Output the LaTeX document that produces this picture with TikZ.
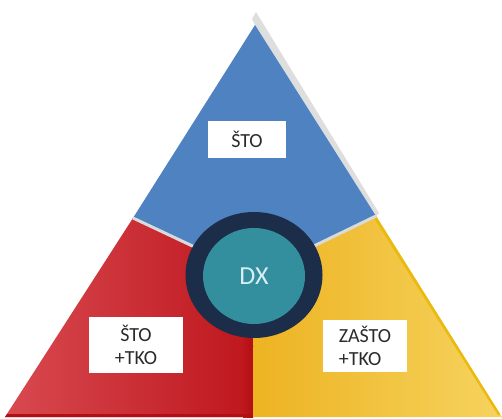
\documentclass[tikz,border=0pt]{standalone}
\usepackage{fontspec}
\setmainfont{Carlito}
\usetikzlibrary{shapes.geometric}
\definecolor{bluec}{HTML}{4F82C0}
\definecolor{redlight}{HTML}{D84A50}
\definecolor{reddark}{HTML}{BE161D}
\definecolor{reddeep}{HTML}{B20E14}
\definecolor{yellowdark}{HTML}{EDB322}
\definecolor{yellowlight}{HTML}{F6D35E}
\definecolor{yellowedge}{HTML}{EBBA10}
\definecolor{ringc}{HTML}{1B2D48}
\definecolor{tealc}{HTML}{338E9E}
\definecolor{sepgray}{HTML}{DADADA}
\definecolor{bevelgray}{HTML}{DEDEDE}
\definecolor{textgray}{HTML}{2B2B2B}
\definecolor{dxtext}{HTML}{D8EEF2}
\begin{document}
\begin{tikzpicture}[x=1pt,y=-1pt,
  lbl/.style={fill=white, inner sep=0pt, text=textgray, font=\fontsize{20}{23}\selectfont},
  sepline/.style={draw=sepgray, line width=3pt}]
\useasboundingbox (0,0) rectangle (502,419);
\coordinate (A) at (255,25);
\coordinate (L) at (5,417);
\coordinate (R) at (502,417);
\coordinate (P1) at (133,218);
\coordinate (P2) at (376,216);
\coordinate (C) at (254,275);
\coordinate (B) at (253,417);
% bevel at the apex and right edge
\fill[bevelgray] (256,12) -- (379,213) -- (376,216) -- (255,25) -- (252,19) -- cycle;
% blue region
\fill[bluec] (A) -- (P2) -- (C) -- (P1) -- cycle;
% red region
\shade[left color=redlight, right color=reddark] (P1) -- (C) -- (B) -- (L) -- cycle;
\shade[left color=reddark, right color=reddeep] (243,300) -- (253,300) -- (B) -- (243,417) -- cycle;
\fill[reddeep] (7,414) -- (253,414) -- (B) -- (L) -- cycle;
% yellow region
\shade[left color=yellowdark, right color=yellowlight] (P2) -- (R) -- (B) -- (C) -- cycle;
\begin{scope}
  \clip (P2) -- (R) -- (B) -- (C) -- cycle;
  \draw[yellowedge, line width=9pt] (376,213) -- (502,413);
\end{scope}
% separators
\draw[sepline] (P1) -- (C);
\draw[sepline] (P2) -- (C);
% centre
\node[ellipse, fill=ringc, minimum width=137pt, minimum height=126pt, inner sep=0pt] (ring) at (C) {};
\node[ellipse, fill=tealc, minimum width=102pt, minimum height=96pt, inner sep=0pt,
  text=dxtext, font=\fontsize{26}{28}\selectfont] (dx) at (254,276) {DX};
% labels
\node[lbl, minimum width=78pt, minimum height=37pt] (sto) at (247,139.5) {ŠTO};
\node[lbl, minimum width=94pt, minimum height=56pt, align=center] (stotko) at (136,345) {ŠTO\\+TKO};
\node[lbl, minimum width=84pt, minimum height=52pt, align=left] (zasto) at (365,346) {ZAŠTO\\+TKO};
\end{tikzpicture}
\end{document}
